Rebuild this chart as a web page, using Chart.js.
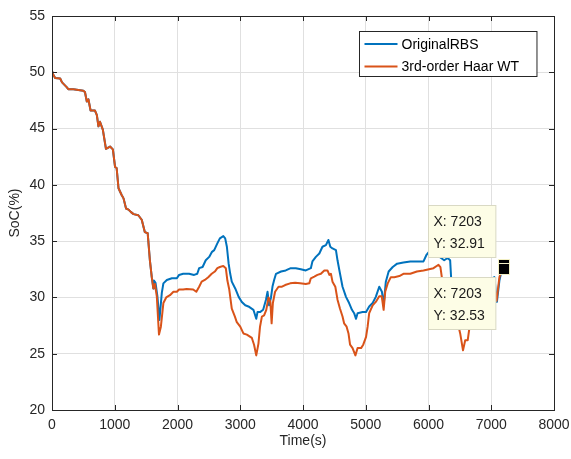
<!DOCTYPE html>
<html>
<head>
<meta charset="utf-8">
<script src="https://cdn.jsdelivr.net/npm/chart.js@4.4.1/dist/chart.umd.min.js"></script>
<style>
  html, body { margin: 0; padding: 0; background: #fff; }
</style>
</head>
<body>
<canvas id="socChart" width="571" height="459"></canvas>
<script>
// both curves overlap until ~1600 s
const timeShared = [0, 10, 50, 130, 160, 230, 260, 340, 500, 525, 555, 580, 615, 685, 715, 740, 765, 810, 860, 925,
  970, 1005, 1030, 1060, 1110, 1140, 1180, 1220, 1255, 1300, 1375, 1430, 1480, 1525, 1560, 1590, 1615];
const socShared = [50.0, 49.9, 49.5, 49.45, 49.1, 48.7, 48.5, 48.5, 48.35, 48.25, 47.4, 47.6, 46.6, 46.6, 46.2, 45.2, 45.6, 44.9, 43.2, 43.4,
  43.15, 41.6, 41.5, 39.7, 39.1, 38.8, 37.9, 37.8, 37.6, 37.4, 37.3, 36.9, 35.8, 35.7, 33.3, 31.8, 30.8];

// OriginalRBS after the split
const timeOrig = [1625, 1650, 1680, 1712, 1750, 1775, 1830, 1910, 1990, 2025, 2090, 2185, 2265, 2315, 2345, 2400, 2450, 2505, 2550, 2585,
  2635, 2675, 2730, 2760, 2787, 2815, 2840, 2865, 2920, 2975, 3025, 3080, 3130, 3210, 3255, 3275, 3315, 3365, 3410, 3435,
  3460, 3490, 3515, 3540, 3570, 3650, 3725, 3805, 3885, 3965, 4045, 4125, 4150, 4205, 4260, 4310, 4365, 4405, 4435, 4470,
  4525, 4550, 4590, 4630, 4685, 4735, 4780, 4815, 4845, 4870, 4950, 5005, 5055, 5110, 5160, 5215, 5258, 5285, 5320, 5365,
  5430, 5500, 5600, 5710, 5815, 5920, 5965, 6000, 6100, 6200, 6250, 6305, 6345, 6360, 6420, 6500, 6560, 6650, 6800, 6950,
  7050, 7090, 7130, 7170, 7203];
const socOrig = [31.5, 31.3, 30.1, 28.0, 30.4, 31.25, 31.55, 31.7, 31.7, 32.0, 32.1, 32.1, 32.0, 32.1, 32.6, 32.7, 33.3, 33.6, 34.05, 34.2,
  34.8, 35.25, 35.45, 35.25, 34.5, 33.0, 32.1, 31.4, 30.8, 30.05, 29.6, 29.3, 29.2, 28.9, 28.1, 28.7, 28.7, 28.9, 29.8, 30.5,
  29.3, 30.0, 31.0, 31.55, 32.1, 32.3, 32.4, 32.6, 32.6, 32.5, 32.4, 32.6, 33.2, 33.6, 33.9, 34.5, 34.65, 35.1, 34.5, 34.35,
  34.2, 33.3, 32.1, 30.95, 30.05, 29.5, 28.9, 28.6, 28.1, 28.6, 28.7, 28.7, 29.2, 29.5, 30.05, 30.95, 30.5, 29.3, 31.4, 32.3,
  32.7, 33.0, 33.1, 33.2, 33.2, 33.2, 33.75, 34.0, 33.9, 33.5, 33.3, 33.5, 33.3, 31.8, 30.5, 29.5, 28.3, 29.5, 30.5, 31.5,
  31.8, 29.6, 31.5, 32.5, 32.91];

// 3rd-order Haar WT after the split
const timeHaar = [1640, 1670, 1705, 1735, 1775, 1820, 1880, 1935, 1990, 2025, 2090, 2145, 2250, 2300, 2345, 2385, 2435, 2490, 2545, 2595,
  2635, 2675, 2730, 2770, 2795, 2825, 2865, 2915, 2945, 3000, 3050, 3105, 3185, 3220, 3255, 3290, 3315, 3345, 3380, 3415,
  3450, 3480, 3500, 3520, 3555, 3610, 3665, 3715, 3795, 3875, 3955, 4045, 4100, 4125, 4180, 4230, 4285, 4340, 4390, 4420,
  4445, 4470, 4515, 4550, 4590, 4630, 4655, 4695, 4725, 4750, 4790, 4835, 4870, 4925, 4960, 5005, 5030, 5055, 5110, 5160,
  5215, 5255, 5285, 5310, 5350, 5400, 5455, 5535, 5600, 5710, 5815, 5920, 6080, 6160, 6190, 6220, 6300, 6400, 6480, 6505,
  6550, 6585, 6625, 6655, 6720, 6850, 6980, 7050, 7085, 7130, 7160, 7203];
const socHaar = [31.2, 30.1, 26.7, 27.4, 29.5, 30.0, 30.2, 30.5, 30.5, 30.7, 30.7, 30.75, 30.7, 30.5, 30.95, 31.4, 31.55, 31.8, 32.1, 32.3,
  32.6, 32.7, 32.8, 32.6, 31.5, 30.7, 29.0, 28.3, 27.8, 27.4, 26.8, 26.7, 26.4, 25.8, 24.85, 25.9, 27.4, 28.3, 28.4, 28.9,
  30.0, 29.6, 27.7, 29.5, 30.5, 30.95, 30.95, 31.1, 31.25, 31.3, 31.25, 31.2, 31.25, 31.7, 31.85, 32.0, 32.1, 32.4, 32.4, 32.0,
  32.1, 31.4, 30.95, 29.8, 29.0, 28.3, 27.7, 27.4, 26.8, 25.8, 25.5, 24.85, 25.5, 25.5, 25.8, 26.5, 27.4, 28.6, 29.3, 29.6,
  30.1, 30.1, 28.9, 30.5, 31.25, 31.8, 31.8, 31.9, 32.1, 32.1, 32.3, 32.4, 32.6, 32.9, 32.7, 31.5, 29.5, 28.2, 27.4, 26.8,
  25.3, 26.2, 26.2, 27.4, 28.5, 29.5, 30.5, 31.0, 29.7, 31.8, 32.3, 32.53];

const xTickValues = [0, 1000, 2000, 3000, 4000, 5000, 6000, 7000, 8000];
const yTickValues = [20, 25, 30, 35, 40, 45, 50, 55];

const FONT = '"Liberation Sans", Arial, Helvetica, sans-serif';
const AXIS_COLOR = '#262626';

function toPoints(xs, ys) {
  return xs.map((x, i) => ({ x: x, y: ys[i] }));
}

// MATLAB-style frame, inward ticks, legend and data tips
const matlabLook = {
  id: 'matlabLook',
  afterDatasetsDraw(chart) {
    const { ctx, chartArea: a, scales: { x, y } } = chart;
    const tl = 5;
    ctx.save();
    ctx.strokeStyle = AXIS_COLOR;
    ctx.lineWidth = 1;
    ctx.beginPath();
    xTickValues.forEach(v => {
      const px = Math.round(x.getPixelForValue(v)) + 0.5;
      ctx.moveTo(px, a.bottom); ctx.lineTo(px, a.bottom - tl);
      ctx.moveTo(px, a.top); ctx.lineTo(px, a.top + tl);
    });
    yTickValues.forEach(v => {
      const py = Math.round(y.getPixelForValue(v)) + 0.5;
      ctx.moveTo(a.left, py); ctx.lineTo(a.left + tl, py);
      ctx.moveTo(a.right, py); ctx.lineTo(a.right - tl, py);
    });
    ctx.stroke();
    ctx.strokeRect(Math.round(a.left) + 0.5, Math.round(a.top) + 0.5, Math.round(a.width), Math.round(a.height));
    ctx.restore();
  },
  afterDraw(chart) {
    const { ctx, chartArea: a } = chart;
    ctx.save();
    ctx.font = '14px ' + FONT;
    ctx.textBaseline = 'middle';

    // legend (northeast)
    const sets = chart.data.datasets;
    const textW = Math.max(...sets.map(d => ctx.measureText(d.label).width));
    const lw = 42 + textW + 18, lh = 45;
    const lx = Math.round(a.right - 18 - lw) + 0.5, ly = Math.round(a.top + 15) + 0.5;
    ctx.fillStyle = '#fff';
    ctx.fillRect(lx, ly, lw, lh);
    ctx.strokeStyle = AXIS_COLOR;
    ctx.lineWidth = 1;
    ctx.strokeRect(lx, ly, lw, lh);
    sets.forEach((d, i) => {
      const ry = ly + 12.5 + i * 22.5;
      ctx.strokeStyle = d.borderColor;
      ctx.lineWidth = 2;
      ctx.beginPath();
      ctx.moveTo(lx + 5, ry); ctx.lineTo(lx + 38, ry);
      ctx.stroke();
      ctx.fillStyle = '#000';
      ctx.fillText(d.label, lx + 42, ry + 1);
    });

    // data tips on the last point of each curve
    sets.forEach((d, i) => {
      const meta = chart.getDatasetMeta(i);
      const el = meta.data[meta.data.length - 1];
      const pt = d.data[d.data.length - 1];
      const lines = ['X: ' + pt.x, 'Y: ' + pt.y.toFixed(2)];
      const w = Math.max(...lines.map(s => ctx.measureText(s).width)) + 16;
      const h = 52;
      const bx = Math.round(el.x - 9 - w) + 0.5;
      const by = Math.round(i === 0 ? el.y - 8 - h : el.y + 8) + 0.5;
      ctx.fillStyle = '#fdfde6';
      ctx.fillRect(bx, by, w, h);
      ctx.strokeStyle = '#d9d9c4';
      ctx.lineWidth = 1;
      ctx.strokeRect(bx, by, w, h);
      ctx.fillStyle = '#1a1a1a';
      ctx.fillText(lines[0], bx + 5, by + 17);
      ctx.fillText(lines[1], bx + 5, by + 38.5);
    });
    // marker squares
    sets.forEach((d, i) => {
      const meta = chart.getDatasetMeta(i);
      const el = meta.data[meta.data.length - 1];
      const sx = Math.round(el.x - 5), sy = Math.round(el.y - 5);
      ctx.fillStyle = '#f2efc4';
      ctx.fillRect(sx - 1, sy - 1, 12, 12);
      ctx.fillStyle = '#000';
      ctx.fillRect(sx, sy, 10, 10);
    });
    ctx.restore();
  }
};

const ctx = document.getElementById('socChart').getContext('2d');
new Chart(ctx, {
  type: 'line',
  data: {
    datasets: [
      {
        label: 'OriginalRBS',
        data: toPoints(timeShared.concat(timeOrig), socShared.concat(socOrig)),
        borderColor: '#0072BD',
        borderWidth: 2,
        pointRadius: 0,
        tension: 0,
        borderJoinStyle: 'round',
        order: 1
      },
      {
        label: '3rd-order Haar WT',
        data: toPoints(timeShared.concat(timeHaar), socShared.concat(socHaar)),
        borderColor: '#D95319',
        borderWidth: 2,
        pointRadius: 0,
        tension: 0,
        borderJoinStyle: 'round',
        order: 0
      }
    ]
  },
  options: {
    responsive: false,
    animation: false,
    layout: { padding: { top: 16, right: 17, left: 0, bottom: 0 } },
    plugins: {
      legend: { display: false },
      tooltip: { enabled: false }
    },
    scales: {
      x: {
        type: 'linear',
        min: 0,
        max: 8000,
        afterBuildTicks: s => { s.ticks = xTickValues.map(v => ({ value: v })); },
        afterFit: s => { s.height = 49; s.paddingLeft = 0; s.paddingRight = 0; },
        grid: { color: '#e0e0e0', drawTicks: false },
        border: { display: false },
        ticks: { color: AXIS_COLOR, font: { family: FONT, size: 14 }, padding: 7, maxRotation: 0, callback: v => String(v) },
        title: { display: true, text: 'Time(s)', color: AXIS_COLOR, font: { family: FONT, size: 14 }, padding: { top: 0, bottom: 9 } }
      },
      y: {
        min: 20,
        max: 55,
        afterBuildTicks: s => { s.ticks = yTickValues.map(v => ({ value: v })); },
        afterFit: s => { s.width = 52; s.paddingTop = 0; s.paddingBottom = 0; },
        grid: { color: '#e0e0e0', drawTicks: false },
        border: { display: false },
        ticks: { color: AXIS_COLOR, font: { family: FONT, size: 14 }, padding: 7, callback: v => String(v) },
        title: { display: true, text: 'SoC(%)', color: AXIS_COLOR, font: { family: FONT, size: 14 }, padding: { top: 7, bottom: 0 } }
      }
    }
  },
  plugins: [matlabLook]
});
</script>
</body>
</html>
